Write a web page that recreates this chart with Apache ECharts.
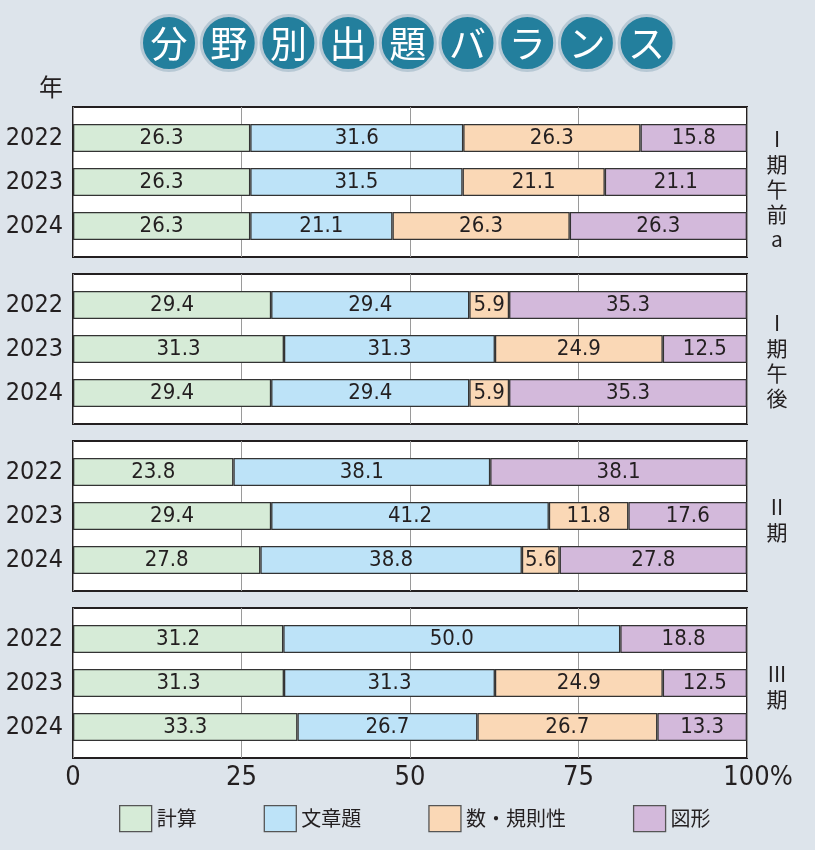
<!DOCTYPE html>
<html>
<head>
<meta charset="utf-8">
<script src="https://cdn.jsdelivr.net/npm/echarts@6/dist/echarts.min.js"></script>
<style>
html,body{margin:0;padding:0;background:#dde4eb;}
#chart{width:815px;height:850px;}
</style>
</head>
<body>
<div id="chart"></div>
<script>
// ---- data ----
const titleChars = ['分','野','別','出','題','バ','ラ','ン','ス'];
const years = ['2022','2023','2024'];
const panelLabels = [['I','期','午','前','a'],['I','期','午','後'],['II','期'],['III','期']];
const seriesNames = ['計算','文章題','数・規則性','図形'];
const keisan     = [[26.3,26.3,26.3],[29.4,31.3,29.4],[23.8,29.4,27.8],[31.2,31.3,33.3]];
const bunshodai  = [[31.6,31.5,21.1],[29.4,31.3,29.4],[38.1,41.2,38.8],[50.0,31.3,26.7]];
const suKisoku   = [[26.3,21.1,26.3],[5.9,24.9,5.9],[null,11.8,5.6],[null,24.9,26.7]];
const zukei      = [[15.8,21.1,26.3],[35.3,12.5,35.3],[38.1,17.6,27.8],[18.8,12.5,13.3]];
const xTicks = [0,25,50,75,100];

// ---- styles ----
const colors = ['#d6ebd7','#bde3f8','#fad8b6','#d3b9db'];
const seriesData = [keisan, bunshodai, suKisoku, zukei];
const numFont = "'Liberation Sans Narrow','DejaVu Sans Condensed','Roboto','Liberation Sans',sans-serif";
const cjkFont = "'Noto Sans CJK JP','Noto Sans',sans-serif";
const textColor = '#231f20';

const panelTops = [107,274,441,608];
const panelH = 150;
const left = 73, right = 68;
const labelCenters = [189,361,520,687];

const grids = [], xAxes = [], yAxes = [], series = [];
panelTops.forEach((top, p) => {
  const last = p === panelTops.length - 1;
  // frame grid
  grids.push({left: left, right: right, top: top, height: panelH, show: true,
    backgroundColor: '#ffffff', borderColor: textColor, borderWidth: 2});
  xAxes.push({type:'value', gridIndex: 2*p, min: xTicks[0], max: xTicks[xTicks.length-1], interval: 25,
    axisLine:{show:false}, axisTick:{show:false},
    splitLine:{show:true, lineStyle:{color:'#9a9a9a', width:1}},
    axisLabel: last ? {show:true, margin: 6, fontFamily: numFont, fontSize: 27, color: textColor,
      formatter: v => v === 100 ? '{p|100%}' : String(v),
      rich: {p: {fontFamily: numFont, fontSize: 27, color: textColor, padding:[0,0,0,22]}}} : {show:false}
  });
  yAxes.push({type:'value', gridIndex: 2*p, show:false, min:0, max:1});
  // bar grid
  grids.push({left: left, right: right, top: top + 9, height: 132});
  xAxes.push({type:'value', gridIndex: 2*p+1, min:0, max:100, interval:25, show:false});
  yAxes.push({type:'category', gridIndex: 2*p+1, data: years, inverse: true,
    axisLine:{show:false}, axisTick:{show:false},
    axisLabel:{margin: 10, fontFamily: numFont, fontSize: 25, color: textColor}});
  seriesNames.forEach((name, s) => {
    series.push({
      type:'bar', name: name, stack: 'p' + p,
      xAxisIndex: 2*p+1, yAxisIndex: 2*p+1,
      barWidth: 28,
      data: seriesData[s][p],
      itemStyle: {color: colors[s], borderColor: '#333333', borderWidth: 1.3},
      label: {show: true, position: 'inside', fontFamily: numFont, fontSize: 22, color: textColor,
        formatter: prm => prm.value == null ? '' : Number(prm.value).toFixed(1)},
      emphasis: {disabled: true}
    });
  });
});

const graphics = [];
titleChars.forEach((ch, i) => {
  const cx = 169 + i * 59.7, cy = 43;
  graphics.push({type:'circle', shape:{cx: cx, cy: cy, r: 27.5},
    style:{fill:'#237f9d', stroke:'#b7c8d4', lineWidth: 3}, silent: true});
  graphics.push({type:'text', x: cx, y: cy + 1, style:{text: ch, fill:'#ffffff',
    font: "37px " + cjkFont, textAlign:'center', textVerticalAlign:'middle'}, silent: true});
});
graphics.push({type:'text', x: 51, y: 87, style:{text:'年', fill: textColor,
  font: "24px " + cjkFont, textAlign:'center', textVerticalAlign:'middle'}});
panelLabels.forEach((lines, p) => {
  graphics.push({type:'text', x: 777, y: labelCenters[p], style:{text: lines.join('\n'), fill: textColor,
    font: "21px " + cjkFont, lineHeight: 25, textAlign:'center', textVerticalAlign:'middle'}});
});

const chart = echarts.init(document.getElementById('chart'), null, {renderer:'canvas'});
chart.setOption({
  backgroundColor: '#dde4eb',
  animation: false,
  legend: {data: seriesNames.map(n => ({name: n, icon: 'rect'})), left: 114, top: 800,
    itemWidth: 32, itemHeight: 26, itemGap: 67,
    selectedMode: false,
    textStyle: {fontFamily: cjkFont, fontSize: 20, color: textColor},
    itemStyle: {borderColor: '#555', borderWidth: 1.3}},
  grid: grids, xAxis: xAxes, yAxis: yAxes, series: series, graphic: graphics
});
</script>
</body>
</html>
